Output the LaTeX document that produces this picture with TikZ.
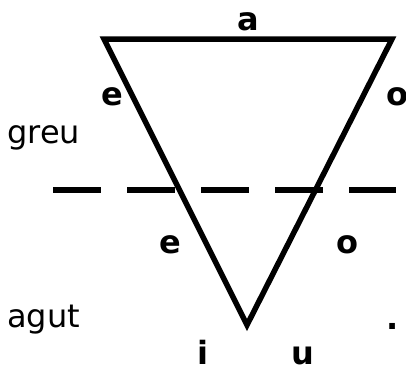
\documentclass[tikz,border=0pt]{standalone}
\usepackage{fontspec}
\setmainfont{DejaVu Sans}
\begin{document}
\begin{tikzpicture}[x=1pt,y=-1pt,
  vow/.style={anchor=base,inner sep=0pt,font=\fontsize{32}{32}\selectfont\bfseries},
  lbl/.style={anchor=base west,inner sep=0pt,font=\fontsize{32}{32}\selectfont},
  tri/.style={line width=5.5pt,line join=miter},
  dash line/.style={line width=5.5pt,dash pattern=on 48pt off 26pt}]
\useasboundingbox (0,0) rectangle (406,365);
\coordinate (tl) at (104,39);
\coordinate (tr) at (392,39);
\coordinate (bt) at (247,325);
\draw[tri] (tl) -- (tr) -- (bt) -- cycle;
\coordinate (dl) at (53,190);
\coordinate (dr) at (396,190);
\draw[dash line] (dl) -- (dr);
\node[vow] (a) at (248,30) {a};
\node[vow] (e1) at (112,105) {e};
\node[vow] (o1) at (397,105) {o};
\node[lbl] (greu) at (7,143) {greu};
\node[vow] (e2) at (170,253) {e};
\node[vow] (o2) at (347,253) {o};
\node[lbl] (agut) at (7,327) {agut};
\node[vow] (dot) at (393,329) {.};
\node[vow] (i) at (203,364) {i};
\node[vow] (u) at (303,364) {u};
\end{tikzpicture}
\end{document}
